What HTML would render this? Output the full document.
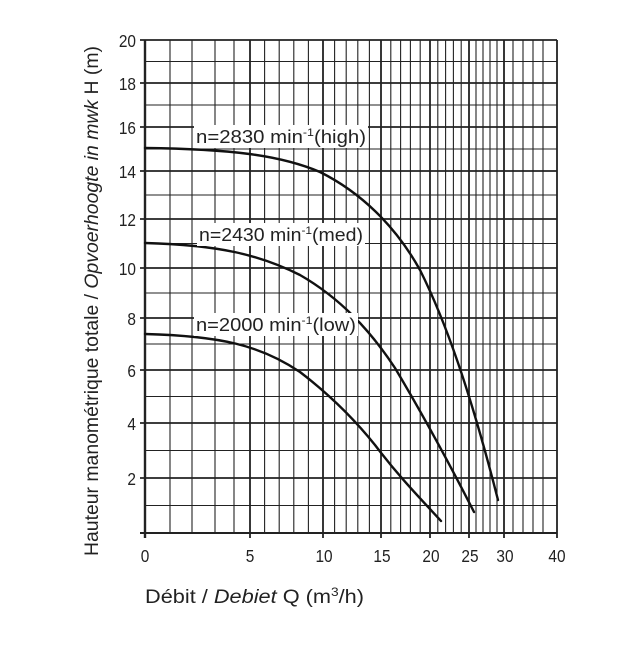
<!DOCTYPE html>
<html><head><meta charset="utf-8"><style>
html,body{margin:0;padding:0;background:#fff;}
svg text{font-family:"Liberation Sans",Arial,sans-serif;fill:#222;}
</style></head><body>
<svg id="s" width="640" height="640" viewBox="0 0 640 640" xmlns="http://www.w3.org/2000/svg">
<g id="grid"></g>
<g fill="none" stroke="#111" stroke-width="2.4" stroke-linecap="round">
<path d="M145,148 C230,149 280,155 320,172 C360,192 395,225 420,270 C445,320 470,390 498,500"/>
<path d="M145,243 C220,245 260,255 300,275 C340,298 370,330 395,368 C420,410 445,455 474,512"/>
<path d="M145,334 C220,336 260,345 300,372 C330,395 355,420 375,445 C400,478 420,498 441,521"/>
</g>
<g font-size="18">
<rect x="194" y="125" width="174" height="23" fill="#fff"/>
<text x="196" y="143" textLength="170" lengthAdjust="spacingAndGlyphs">n=2830 min<tspan font-size="11" dy="-7">-1</tspan><tspan dy="7">(high)</tspan></text>
<rect x="197" y="223" width="168" height="23" fill="#fff"/>
<text x="199" y="241" textLength="164" lengthAdjust="spacingAndGlyphs">n=2430 min<tspan font-size="11" dy="-7">-1</tspan><tspan dy="7">(med)</tspan></text>
<rect x="194" y="313" width="164" height="23" fill="#fff"/>
<text x="196" y="331" textLength="160" lengthAdjust="spacingAndGlyphs">n=2000 min<tspan font-size="11" dy="-7">-1</tspan><tspan dy="7">(low)</tspan></text>
</g>
<g font-size="17.5" text-anchor="end" transform="translate(136,0) scale(0.88,1) translate(-136,0)">
<text x="136" y="47">20</text><text x="136" y="90">18</text><text x="136" y="134">16</text>
<text x="136" y="178">14</text><text x="136" y="226">12</text><text x="136" y="275">10</text>
<text x="136" y="325">8</text><text x="136" y="377">6</text><text x="136" y="430">4</text>
<text x="136" y="485">2</text>
</g>
<g font-size="17.5" text-anchor="middle">
<text x="145" y="562" transform="translate(145,0) scale(0.88,1) translate(-145,0)">0</text>
<text x="250" y="562" transform="translate(250,0) scale(0.88,1) translate(-250,0)">5</text>
<text x="324" y="562" transform="translate(324,0) scale(0.88,1) translate(-324,0)">10</text>
<text x="382" y="562" transform="translate(382,0) scale(0.88,1) translate(-382,0)">15</text>
<text x="431" y="562" transform="translate(431,0) scale(0.88,1) translate(-431,0)">20</text>
<text x="470" y="562" transform="translate(470,0) scale(0.88,1) translate(-470,0)">25</text>
<text x="505" y="562" transform="translate(505,0) scale(0.88,1) translate(-505,0)">30</text>
<text x="557" y="562" transform="translate(557,0) scale(0.88,1) translate(-557,0)">40</text>
</g>
<text font-size="19" x="145" y="603" textLength="219" lengthAdjust="spacingAndGlyphs">Débit / <tspan font-style="italic">Debiet</tspan>  Q (m<tspan font-size="12" dy="-7">3</tspan><tspan dy="7">/h)</tspan></text>
<text font-size="19" transform="translate(98,556) rotate(-90)" textLength="510" lengthAdjust="spacingAndGlyphs">Hauteur manométrique totale / <tspan font-style="italic">Opvoerhoogte in mwk</tspan>  H (m)</text>
</svg>
<script>
var g=document.getElementById('grid'),NS='http://www.w3.org/2000/svg';
function ln(x1,y1,x2,y2,w){var l=document.createElementNS(NS,'line');l.setAttribute('x1',x1);l.setAttribute('y1',y1);l.setAttribute('x2',x2);l.setAttribute('y2',y2);l.setAttribute('stroke','#222');l.setAttribute('stroke-width',w);g.appendChild(l);}
var xq=[[0,145],[1,170],[2,192],[3,215],[4,234],[5,250],[10,323],[15,381],[20,430],[25,469],[30,504],[32,513],[34,523],[36,533],[38,543],[40,557]];
function X(q){for(var i=0;i<xq.length-1;i++){if(q>=xq[i][0]&&q<=xq[i+1][0]){var a=xq[i],b=xq[i+1];return a[1]+(b[1]-a[1])*(q-a[0])/(b[0]-a[0]);}}}
var yh={20:40,18:83,16:127,14:171,12:219,10:268,8:318,6:370,4:423,2:478,0:533};
for(var h=0;h<=20;h+=2){var y=yh[h];ln(140,y,557,y,h==0?2:1.8);if(h<20){var ym=(y+yh[h+2])/2;ln(145,ym,557,ym,1.1);}}
var qs=[];for(var q=0;q<=30;q++)qs.push(q);qs.push(32,34,36,38,40);
qs.forEach(function(q){var x=X(q);var thick=(q%5==0);ln(x,40,x,q%5==0?538:533,q==0?2.4:(thick?1.8:1.1));});
</script>
</body></html>
